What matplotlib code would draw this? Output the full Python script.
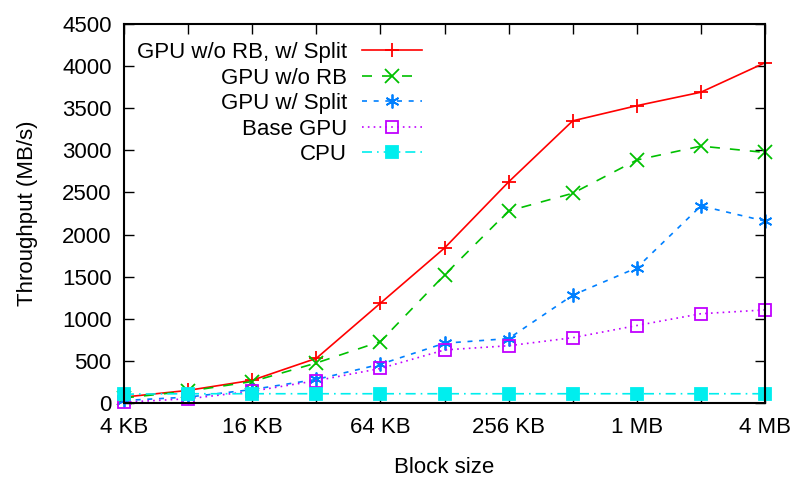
import matplotlib
matplotlib.use("Agg")
import matplotlib.pyplot as plt

plt.rcParams["font.family"] = ["Liberation Sans", "DejaVu Sans"]

# ---- Data ----------------------------------------------------------------
block_kb = [4, 8, 16, 32, 64, 128, 256, 512, 1024, 2048, 4096]
tick_kb = [4, 16, 64, 256, 1024, 4096]
tick_labels = ["4 KB", "16 KB", "64 KB", "256 KB", "1 MB", "4 MB"]

gpu_norb_split = [70, 150, 270, 530, 1185, 1840, 2625, 3350, 3530, 3690, 4040]
gpu_norb = [60, 140, 255, 475, 730, 1520, 2280, 2490, 2885, 3050, 2975]
gpu_split = [30, 70, 160, 280, 460, 710, 765, 1280, 1605, 2340, 2160]
base_gpu = [10, 50, 140, 265, 410, 630, 680, 775, 920, 1060, 1105]
cpu = [105, 110, 110, 110, 110, 110, 110, 110, 110, 110, 110]

FS = 16

series = [
    ("GPU w/o RB, w/ Split", gpu_norb_split, "#ff0000", "-", "+", None),
    ("GPU w/o RB", gpu_norb, "#00c000", (0, (6, 6)), "x", None),
    ("GPU w/ Split", gpu_split, "#0080ff", (0, (3, 4)), (6, 2, 0), None),
    ("Base GPU", base_gpu, "#c000ff", (0, (1, 2.5)), "s", "none"),
    ("CPU", cpu, "#00eeee", (0, (6, 3, 1, 3)), "s", "full"),
]

fig = plt.figure(figsize=(7.91, 4.78), dpi=100)
ax = fig.add_axes([124 / 791, 75 / 478, 641 / 791, 379 / 478])

for label, vals, color, ls, mk, fill in series:
    kw = dict(color=color, linestyle=ls, linewidth=1.2, marker=mk,
              markersize=10, markeredgewidth=1.3, label=label)
    if fill == "none":
        kw.update(markerfacecolor="none", markersize=8.5)
    elif fill == "full":
        kw.update(markersize=8.5)
    ax.plot(block_kb, vals, clip_on=False, **kw)

ax.set_xscale("log", base=2)
ax.set_xlim(4, 4096)
ax.set_ylim(0, 4500)
ax.set_xticks(block_kb)
ax.set_xticklabels([tick_labels[tick_kb.index(b)] if b in tick_kb else "" for b in block_kb])
ax.minorticks_off()
ax.set_yticks(range(0, 4501, 500))

ax.tick_params(direction="in", length=7.5, width=1.0, top=True, right=True,
               labelsize=FS, colors="black")
ax.tick_params(axis="y", pad=9)
ax.tick_params(axis="x", pad=10)
for sp in ax.spines.values():
    sp.set_linewidth(1.5)

ax.set_xlabel("Block size", fontsize=FS, labelpad=14)
ax.set_ylabel("Throughput (MB/s)", fontsize=FS, labelpad=17)

ax.legend(loc="upper right", bbox_to_anchor=(0.465, 0.952), frameon=False,
          markerfirst=False, fontsize=FS, handlelength=2.7, handletextpad=0.68,
          labelspacing=0.2, borderpad=0, borderaxespad=0)

fig.savefig("out.png", dpi=100)
